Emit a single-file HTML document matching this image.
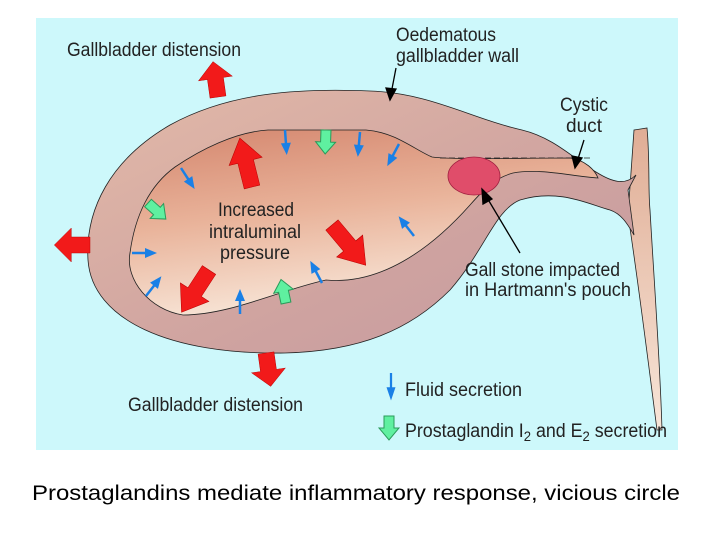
<!DOCTYPE html>
<html><head><meta charset="utf-8"><style>
html,body{margin:0;padding:0;background:#fff;width:720px;height:540px;overflow:hidden}
svg{display:block}
text{font-family:"Liberation Sans",Arial,sans-serif}
</style></head><body>
<svg width="720" height="540" viewBox="0 0 720 540" xmlns="http://www.w3.org/2000/svg">
<defs>
<linearGradient id="wall" x1="0" y1="0" x2="1" y2="1">
<stop offset="0" stop-color="#e2b9a8"/><stop offset="0.6" stop-color="#cfa3a0"/><stop offset="1" stop-color="#c49aa0"/>
</linearGradient>
<linearGradient id="lum" x1="0" y1="0" x2="0.3" y2="1">
<stop offset="0" stop-color="#d4866e"/><stop offset="0.5" stop-color="#e9b39a"/><stop offset="1" stop-color="#f8e6d8"/>
</linearGradient>
<linearGradient id="duct" x1="0" y1="0" x2="0" y2="1">
<stop offset="0" stop-color="#e0ad95"/><stop offset="1" stop-color="#f7e5d8"/>
</linearGradient>
<polygon id="red" points="-8,0 8,0 8,22 17,22 0,42 -17,22 -8,22" fill="#f21a1a" stroke="#b00" stroke-width="0.5"/>
<g id="blue"><line x1="0" y1="0" x2="0" y2="16" stroke="#1a80e6" stroke-width="2.5"/><polygon points="-5,13 5,13 0,25 " fill="#1a80e6"/></g>
<polygon id="green" points="-5,0 5,0 5,12 10,12 0,24 -10,12 -5,12" fill="#5ff0a0" stroke="#2a9a5a" stroke-width="1"/>
</defs>
<rect x="36" y="18" width="642" height="432" fill="#cdf8fb"/>
<!-- vertical bile duct -->
<path d="M634,130 L647,128 C650,160 648,190 650,210 C654,280 660,360 662,430 L657,430 C648,360 638,280 628,215 Z" fill="url(#duct)" stroke="#222" stroke-width="0.8"/>
<!-- gallbladder outer -->
<path d="M636,175 C625,186 612,182 596,172 C575,160 555,138 522,130 C470,118 430,93 370,91 C300,88 230,92 170,125 C110,160 85,210 88,260 C92,320 170,355 285,353 C360,351 410,330 450,290 C485,250 495,210 520,200 C560,188 590,205 610,210 C622,214 628,225 634,235 L628,190 Z" fill="url(#wall)" stroke="#222" stroke-width="0.8"/>
<!-- inner lumen -->
<path d="M432,157 C455,160 520,158 570,158 C585,160 595,170 598,178 C570,176 540,168 513,173 C495,178 485,188 470,205 C430,250 380,285 326,280 C280,290 230,315 183,315 C150,310 125,280 130,253 C135,215 150,185 175,167 C200,150 235,132 268,130 L366,130 C395,132 415,150 432,157 Z" fill="url(#lum)" stroke="#222" stroke-width="0.8"/>
<line x1="440" y1="158" x2="590" y2="158" stroke="#222" stroke-width="0.8" stroke-dasharray="6,3"/>
<!-- stone -->
<ellipse cx="474" cy="176" rx="26" ry="19" fill="#e04d6a" stroke="#a02040" stroke-width="0.8"/>
<!-- red arrows -->
<use href="#red" transform="translate(218,97) rotate(172) scale(1,0.85)"/>
<use href="#red" transform="translate(90,245) rotate(90) scale(1,0.85)"/>
<use href="#red" transform="translate(266,353) rotate(-8) scale(1,0.8)"/>
<use href="#red" transform="translate(252,187) rotate(166) scale(1,1.2)"/>
<use href="#red" transform="translate(332,225) rotate(-40) scale(1,1.25)"/>
<use href="#red" transform="translate(209,270) rotate(33) scale(1,1.2)"/>
<!-- blue arrows -->
<use href="#blue" transform="translate(285,130) rotate(-4)"/>
<use href="#blue" transform="translate(360,132) rotate(5)"/>
<use href="#blue" transform="translate(399,144) rotate(28)"/>
<use href="#blue" transform="translate(181,168) rotate(-33)"/>
<use href="#blue" transform="translate(132,253) rotate(-90)"/>
<use href="#blue" transform="translate(146,296) rotate(-142)"/>
<use href="#blue" transform="translate(240,314) rotate(180)"/>
<use href="#blue" transform="translate(322,283) rotate(152)"/>
<use href="#blue" transform="translate(414,236) rotate(142)"/>
<!-- green arrows -->
<use href="#green" transform="translate(326,130) rotate(2)"/>
<use href="#green" transform="translate(148,203) rotate(-48)"/>
<use href="#green" transform="translate(286,303) rotate(168)"/>
<!-- pointer lines -->
<g stroke="#000" stroke-width="1.3" fill="#000">
<line x1="396" y1="68" x2="391" y2="94"/><polygon points="386,88 396,89 390,100"/>
<line x1="584" y1="140" x2="577" y2="162"/><polygon points="572,156 582,158 575,168"/>
<line x1="520" y1="253" x2="486" y2="196"/><polygon points="483,204 492,199 482,189"/>
</g>
<!-- labels -->
<g fill="#222" font-size="19">
<text x="67" y="56" textLength="174" lengthAdjust="spacingAndGlyphs">Gallbladder distension</text>
<text x="396" y="41" textLength="100" lengthAdjust="spacingAndGlyphs">Oedematous</text>
<text x="396" y="62" textLength="123" lengthAdjust="spacingAndGlyphs">gallbladder wall</text>
<text x="560" y="111" textLength="48" lengthAdjust="spacingAndGlyphs">Cystic</text>
<text x="566" y="132" textLength="36" lengthAdjust="spacingAndGlyphs">duct</text>
<text x="218" y="216" textLength="76" lengthAdjust="spacingAndGlyphs">Increased</text>
<text x="209" y="238" textLength="92" lengthAdjust="spacingAndGlyphs">intraluminal</text>
<text x="220" y="259" textLength="70" lengthAdjust="spacingAndGlyphs">pressure</text>
<text x="465" y="276" textLength="155" lengthAdjust="spacingAndGlyphs">Gall stone impacted</text>
<text x="465" y="296" textLength="166" lengthAdjust="spacingAndGlyphs">in Hartmann's pouch</text>
<text x="128" y="411" textLength="175" lengthAdjust="spacingAndGlyphs">Gallbladder distension</text>
<text x="405" y="396" textLength="117" lengthAdjust="spacingAndGlyphs">Fluid secretion</text>
<text x="405" y="437" textLength="262" lengthAdjust="spacingAndGlyphs">Prostaglandin I<tspan font-size="14" dy="4">2</tspan><tspan dy="-4"> and E</tspan><tspan font-size="14" dy="4">2</tspan><tspan dy="-4"> secretion</tspan></text>
</g>
<!-- legend arrows -->
<g transform="translate(391,373) scale(0.9,1.1)"><use href="#blue"/></g>
<use href="#green" transform="translate(389,416)"/>
<text x="32" y="500" font-size="21" fill="#000" textLength="648" lengthAdjust="spacingAndGlyphs">Prostaglandins mediate inflammatory response, vicious circle</text>
</svg>
</body></html>
